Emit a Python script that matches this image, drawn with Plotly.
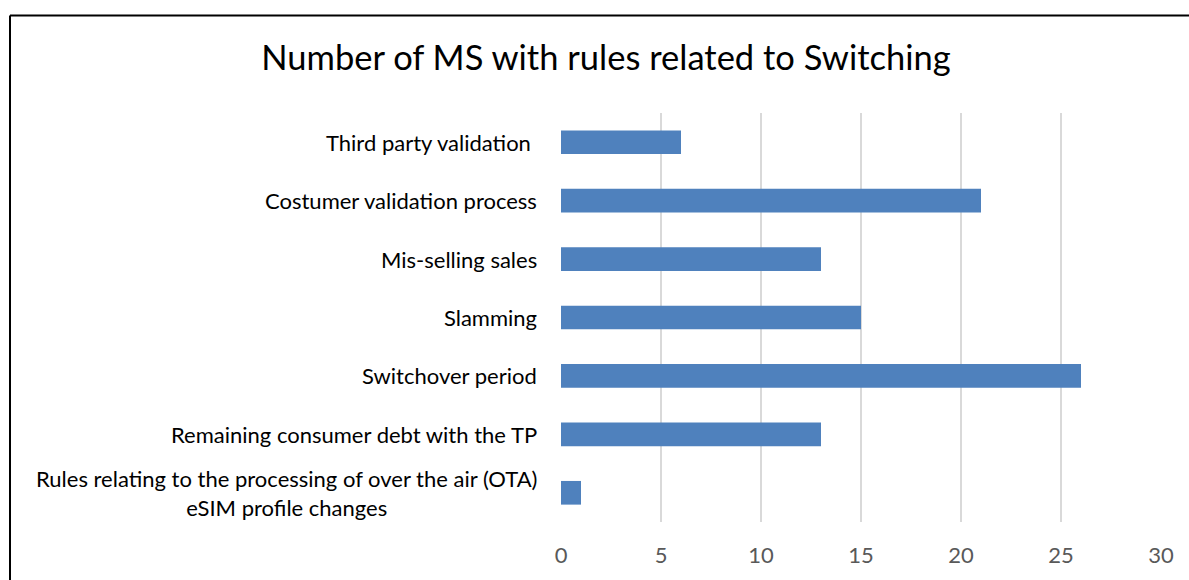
import plotly.graph_objects as go

categories = [
    "Third party validation\u00a0",
    "Costumer validation process",
    "Mis-selling sales",
    "Slamming",
    "Switchover period",
    "Remaining consumer debt with the TP",
    "Rules relating to the processing of over the air (OTA)<br>eSIM profile changes",
]
values = [6, 21, 13, 15, 26, 13, 1]
tick_vals = [0, 5, 10, 15, 20, 25, 30]

FONT = "Lato, Calibri, sans-serif"

fig = go.Figure()
fig.add_trace(go.Bar(
    x=values,
    y=list(range(len(categories))),
    orientation="h",
    marker=dict(color="#4f81bd", line=dict(width=0)),
    hoverinfo="x",
))

annotations = []
for i, c in enumerate(categories):
    annotations.append(dict(
        x=-0.037, xref="paper", y=i, yref="y",
        text=c, showarrow=False, xanchor="right", yanchor="middle",
        align="center", font=dict(family=FONT, size=22, color="#000000"),
    ))

fig.update_layout(
    width=1189, height=580,
    margin=dict(l=561, r=28, t=113, b=52),
    paper_bgcolor="white", plot_bgcolor="white",
    title=dict(text="Number of MS with rules related to Switching",
               x=606 / 1189, xanchor="center", y=1 - 58 / 580, yanchor="middle",
               font=dict(family=FONT, size=34.5, color="#000000")),
    bargap=0.595,
    showlegend=False,
    xaxis=dict(range=[0, 30], tickvals=tick_vals, showgrid=True,
               gridcolor="#d9d9d9", gridwidth=1.5, zeroline=False,
               showline=False, ticks="",
               tickfont=dict(family=FONT, size=22, color="#595959"),
               ticklabelstandoff=18, fixedrange=True),
    yaxis=dict(range=[len(categories) - 0.5, -0.5], showticklabels=False,
               showgrid=False, zeroline=False, showline=False, ticks="",
               fixedrange=True),
    annotations=annotations,
    shapes=[
        dict(type="line", xref="paper", yref="paper",
             x0=(10 - 561) / 600, x1=(1195 - 561) / 600,
             y0=(528 - 14) / 415, y1=(528 - 14) / 415,
             line=dict(color="black", width=2)),
        dict(type="line", xref="paper", yref="paper",
             x0=(10 - 561) / 600, x1=(10 - 561) / 600,
             y0=(528 - 14) / 415, y1=(528 - 590) / 415,
             line=dict(color="black", width=2)),
    ],
)

fig.write_html("out.html", config={"displayModeBar": False},
               post_script="document.body.style.margin='0';document.body.style.padding='0';")
